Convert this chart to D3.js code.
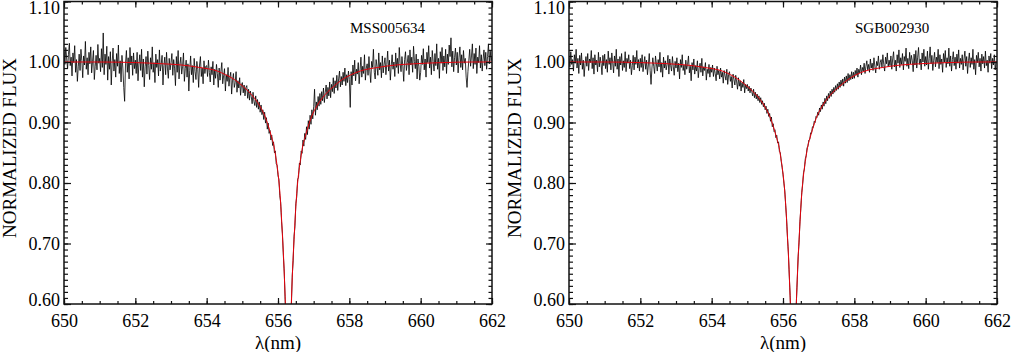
<!DOCTYPE html>
<html>
<head>
<meta charset="utf-8">
<script src="https://cdn.jsdelivr.net/npm/d3@7"></script>
<style>
  body { margin: 0; background: #fff; }
  svg { display: block; }
  text { font-family: "Liberation Serif", "DejaVu Serif", serif; }
</style>
</head>
<body>
<div id="chart"></div>
<script>
// Spectra sampled every 0.025 nm from 650.000 to 662.000 nm (481 points), one row per nm
const waveStart = 650;
const waveStep = 0.025;

const mssFlux = [
  1.018, 0.996, 1.024, 1.005, 0.989, 1.012, 1.031, 0.994, 1.008, 0.977, 1.015, 0.999, 1.027, 0.983, 1.004, 0.968, 0.992, 1.013, 0.986, 1.021,
  1.002, 0.974, 1.010, 0.995, 1.034, 0.988, 1.007, 0.979, 1.016, 0.997, 1.025, 0.982, 1.001, 1.019, 0.971, 0.993, 1.011, 0.987, 1.029, 0.998,
  1.006, 0.984, 1.022, 0.991, 1.048, 0.979, 1.013, 0.996, 1.026, 0.970, 1.009, 0.988, 1.017, 0.962, 0.999, 1.023, 0.985, 1.004, 0.975, 1.014,
  0.993, 1.028, 0.981, 1.002, 0.967, 1.011, 0.990, 0.958, 0.935, 0.998, 1.019, 0.983, 1.007, 0.972, 1.024, 0.995, 1.010, 0.978, 1.015, 0.989,
  1.003, 0.981, 1.016, 0.969, 0.997, 1.012, 0.986, 1.021, 0.975, 1.005, 0.959, 0.992, 1.009, 0.980, 1.018, 0.994, 0.971, 1.007, 0.988, 1.025,
  0.983, 0.999, 0.966, 1.013, 0.991, 1.004, 0.977, 1.020, 0.985, 0.996, 1.011, 0.962, 0.994, 1.008, 0.979, 1.016, 0.990, 0.973, 1.006, 0.987,
  0.999, 1.014, 0.978, 1.004, 0.990, 0.961, 1.009, 0.983, 1.019, 0.972, 0.996, 1.008, 0.980, 0.993, 1.015, 0.968, 0.989, 1.003, 0.975, 0.997,
  0.952, 0.986, 1.010, 0.979, 0.994, 0.966, 1.006, 0.984, 0.971, 1.001, 0.988, 0.958, 0.995, 1.009, 0.976, 0.990, 0.964, 1.002, 0.981, 0.993,
  0.994, 0.976, 1.003, 0.983, 0.967, 0.992, 0.979, 1.001, 0.962, 0.988, 0.973, 0.996, 0.981, 0.958, 0.990, 0.970, 0.985, 0.999, 0.964, 0.977,
  0.989, 0.952, 0.979, 0.968, 0.991, 0.960, 0.975, 0.983, 0.947, 0.970, 0.981, 0.958, 0.966, 0.984, 0.950, 0.969, 0.957, 0.974, 0.945, 0.962,
  0.966, 0.949, 0.962, 0.944, 0.958, 0.961, 0.940, 0.955, 0.937, 0.952, 0.943, 0.931, 0.950, 0.935, 0.928, 0.944, 0.925, 0.938, 0.922, 0.934,
  0.917, 0.929, 0.913, 0.921, 0.905, 0.917, 0.899, 0.908, 0.889, 0.899, 0.882, 0.887, 0.871, 0.879, 0.862, 0.868, 0.850, 0.853, 0.832, 0.829,
  0.812, 0.806, 0.779, 0.768, 0.736, 0.716, 0.680, 0.653, 0.607, 0.571, 0.528, 0.477, 0.470, 0.506, 0.565, 0.597, 0.648, 0.671, 0.712, 0.728,
  0.766, 0.777, 0.806, 0.809, 0.833, 0.830, 0.853, 0.849, 0.871, 0.861, 0.882, 0.872, 0.893, 0.880, 0.903, 0.889, 0.912, 0.897, 0.921, 0.906,
  0.926, 0.955, 0.912, 0.934, 0.921, 0.943, 0.927, 0.948, 0.930, 0.951, 0.936, 0.957, 0.933, 0.950, 0.962, 0.939, 0.958, 0.944, 0.967, 0.941,
  0.963, 0.951, 0.974, 0.948, 0.969, 0.957, 0.978, 0.953, 0.972, 0.985, 0.959, 0.976, 0.962, 0.983, 0.968, 0.990, 0.961, 0.979, 0.966, 0.985,
  0.971, 0.925, 0.984, 0.962, 0.995, 0.977, 1.003, 0.969, 0.988, 0.980, 0.999, 0.964, 0.986, 1.008, 0.975, 0.993, 0.981, 1.012, 0.970, 0.990,
  0.997, 0.978, 1.009, 0.985, 0.966, 1.001, 0.991, 1.021, 0.983, 0.972, 1.004, 0.993, 0.978, 1.015, 0.987, 0.999, 0.974, 1.010, 0.982, 0.996,
  1.007, 0.979, 0.996, 1.018, 0.985, 1.003, 0.970, 0.994, 1.012, 0.988, 1.000, 0.976, 1.015, 0.991, 1.006, 0.981, 1.024, 0.997, 0.984, 1.009,
  0.993, 0.968, 1.004, 1.017, 0.986, 0.999, 1.011, 0.979, 1.020, 0.995, 1.008, 0.983, 1.026, 1.001, 0.989, 1.013, 0.972, 1.005, 0.993, 0.970,
  0.983, 1.011, 0.996, 1.022, 0.987, 1.005, 0.975, 1.016, 0.999, 1.027, 0.990, 1.008, 0.979, 1.019, 1.001, 0.985, 1.014, 0.994, 1.030, 0.988,
  1.006, 0.973, 1.017, 0.998, 1.024, 0.986, 1.010, 0.992, 1.021, 0.981, 1.013, 0.996, 1.028, 1.009, 1.040, 0.992, 1.018, 0.984, 1.007, 1.023,
  0.995, 1.016, 0.982, 1.008, 1.025, 0.991, 1.012, 0.987, 1.019, 0.998, 1.006, 0.975, 0.958, 0.984, 1.003, 1.021, 0.993, 1.010, 1.030, 0.989,
  1.014, 0.996, 1.023, 0.981, 1.008, 0.999, 1.027, 0.990, 1.012, 0.985, 1.005, 1.020, 0.994, 1.016, 0.988, 1.009, 1.030, 0.997, 1.018, 1.002,
  1.010
];

const sgbFlux = [
  1.008, 0.992, 1.017, 0.996, 1.004, 0.985, 1.012, 0.998, 1.021, 0.990, 1.006, 0.981, 1.011, 0.995, 1.015, 0.988, 1.003, 0.976, 0.997, 1.009,
  0.993, 1.014, 0.986, 1.005, 0.999, 1.019, 0.989, 1.007, 0.980, 1.012, 0.995, 1.003, 0.984, 1.016, 0.992, 1.008, 0.997, 0.979, 1.011, 0.994,
  1.013, 0.989, 1.004, 0.983, 1.018, 0.996, 1.007, 0.987, 1.015, 0.999, 0.982, 1.010, 0.993, 1.021, 0.988, 1.005, 0.976, 1.009, 0.995, 1.014,
  0.986, 1.002, 0.991, 1.017, 0.984, 1.006, 0.998, 1.012, 0.989, 1.003, 0.979, 0.994, 1.011, 0.987, 1.008, 0.996, 1.019, 0.990, 1.004, 0.985,
  1.006, 0.991, 1.012, 0.984, 0.998, 1.009, 0.988, 1.003, 0.979, 0.995, 1.014, 0.986, 0.963, 0.990, 1.007, 0.993, 0.981, 1.010, 0.997, 0.985,
  1.004, 0.992, 1.016, 0.983, 0.999, 0.975, 1.008, 0.990, 1.002, 0.987, 0.996, 1.011, 0.980, 1.005, 0.994, 0.985, 1.009, 0.992, 0.978, 1.001,
  0.990, 1.007, 0.984, 0.998, 0.972, 1.004, 0.991, 1.012, 0.986, 0.995, 0.979, 1.003, 0.988, 0.996, 1.010, 0.982, 0.993, 0.969, 0.999, 0.987,
  1.005, 0.980, 0.994, 0.985, 1.002, 0.974, 0.990, 0.998, 0.983, 1.006, 0.977, 0.992, 0.986, 0.999, 0.970, 0.988, 0.981, 0.996, 0.975, 0.991,
  0.983, 0.995, 0.976, 0.990, 0.981, 0.969, 0.993, 0.979, 0.986, 0.972, 0.990, 0.975, 0.983, 0.965, 0.986, 0.977, 0.970, 0.988, 0.963, 0.979,
  0.984, 0.968, 0.976, 0.957, 0.980, 0.971, 0.962, 0.978, 0.967, 0.955, 0.974, 0.960, 0.969, 0.952, 0.966, 0.958, 0.971, 0.949, 0.963, 0.956,
  0.963, 0.952, 0.960, 0.949, 0.957, 0.951, 0.944, 0.955, 0.941, 0.950, 0.939, 0.947, 0.936, 0.944, 0.933, 0.941, 0.930, 0.936, 0.926, 0.932,
  0.921, 0.927, 0.915, 0.922, 0.910, 0.915, 0.902, 0.909, 0.893, 0.898, 0.885, 0.888, 0.875, 0.879, 0.866, 0.868, 0.852, 0.850, 0.836, 0.826,
  0.814, 0.800, 0.787, 0.763, 0.741, 0.710, 0.686, 0.648, 0.614, 0.572, 0.532, 0.478, 0.468, 0.512, 0.557, 0.604, 0.640, 0.678, 0.701, 0.736,
  0.758, 0.784, 0.797, 0.817, 0.823, 0.840, 0.845, 0.858, 0.861, 0.871, 0.872, 0.883, 0.882, 0.893, 0.892, 0.902, 0.900, 0.910, 0.908, 0.917,
  0.912, 0.924, 0.918, 0.929, 0.922, 0.934, 0.927, 0.940, 0.931, 0.944, 0.936, 0.948, 0.940, 0.952, 0.943, 0.955, 0.947, 0.958, 0.950, 0.961,
  0.953, 0.964, 0.955, 0.967, 0.958, 0.970, 0.961, 0.972, 0.960, 0.975, 0.965, 0.977, 0.966, 0.981, 0.969, 0.979, 0.971, 0.984, 0.972, 0.983,
  0.973, 0.986, 0.978, 0.990, 0.975, 0.988, 0.982, 0.995, 0.979, 0.991, 0.985, 0.998, 0.981, 0.993, 1.002, 0.987, 0.996, 0.983, 1.005, 0.990,
  0.998, 0.986, 1.007, 0.993, 0.982, 1.001, 0.994, 1.010, 0.988, 0.999, 1.004, 0.991, 1.012, 0.996, 0.985, 1.008, 0.997, 1.015, 0.992, 1.003,
  0.994, 1.010, 0.988, 1.005, 1.017, 0.992, 1.003, 0.985, 1.012, 0.998, 1.020, 0.991, 1.007, 0.996, 1.014, 0.987, 1.009, 1.001, 1.023, 0.993,
  1.006, 0.989, 1.016, 0.997, 1.011, 1.002, 0.984, 1.013, 0.995, 1.019, 0.990, 1.008, 1.024, 0.996, 1.005, 0.987, 1.015, 1.000, 1.021, 0.993,
  1.009, 0.995, 1.018, 0.988, 1.006, 1.025, 0.997, 1.011, 0.986, 1.003, 1.016, 0.992, 1.008, 0.999, 1.021, 0.989, 1.012, 0.996, 1.005, 0.983,
  1.014, 1.000, 1.019, 0.991, 1.007, 0.997, 1.023, 0.993, 1.010, 0.985, 1.004, 1.017, 0.994, 1.008, 0.988, 1.013, 0.998, 1.020, 0.990, 1.006,
  0.996, 1.012, 0.987, 1.005, 1.018, 0.993, 1.009, 0.981, 1.002, 1.015, 0.991, 1.007, 0.996, 1.021, 0.988, 1.004, 0.979, 1.011, 0.999, 1.016,
  0.992, 1.006, 0.985, 1.013, 0.997, 1.009, 0.990, 1.018, 0.994, 1.003, 0.983, 1.010, 0.998, 1.014, 0.989, 1.006, 0.995, 1.012, 0.987, 1.001,
  0.998
];

// Model fits (red)
const modelWave = [
  650.00, 651.00, 652.00, 652.80, 653.30, 653.80, 654.30, 654.53, 654.78, 655.03,
  655.18, 655.33, 655.43, 655.53, 655.63, 655.73, 655.83, 655.88, 655.93, 655.98,
  656.03, 656.08, 656.12, 656.16, 656.20, 656.24, 656.29, 656.34, 656.38, 656.42,
  656.46, 656.50, 656.55, 656.60, 656.65, 656.70, 656.75, 656.85, 656.95, 657.05,
  657.15, 657.25, 657.40, 657.55, 657.80, 658.05, 658.30, 658.80, 659.30, 659.80,
  660.60, 661.50, 662.00
];
const mssModelFlux = [
  1.000, 1.000, 0.999, 0.997, 0.995, 0.991, 0.985, 0.979, 0.971, 0.959,
  0.951, 0.941, 0.933, 0.923, 0.911, 0.894, 0.874, 0.863, 0.846, 0.826,
  0.800, 0.761, 0.718, 0.672, 0.612, 0.540, 0.450, 0.540, 0.612, 0.672,
  0.718, 0.761, 0.800, 0.826, 0.846, 0.863, 0.874, 0.894, 0.911, 0.923,
  0.933, 0.941, 0.951, 0.959, 0.971, 0.979, 0.985, 0.991, 0.995, 0.997,
  0.999, 1.000, 1.000
];
const sgbModelFlux = [
  1.000, 1.000, 0.999, 0.997, 0.995, 0.991, 0.985, 0.979, 0.970, 0.958,
  0.950, 0.940, 0.932, 0.922, 0.910, 0.893, 0.873, 0.862, 0.845, 0.825,
  0.799, 0.760, 0.717, 0.671, 0.611, 0.538, 0.448, 0.538, 0.611, 0.671,
  0.717, 0.760, 0.799, 0.825, 0.845, 0.862, 0.873, 0.893, 0.910, 0.922,
  0.932, 0.940, 0.950, 0.958, 0.970, 0.979, 0.985, 0.991, 0.995, 0.997,
  0.999, 1.000, 1.000
];

const xTickValues = [650, 652, 654, 656, 658, 660, 662];
const yTickValues = [0.60, 0.70, 0.80, 0.90, 1.00, 1.10];
const starNames = ["MSS005634", "SGB002930"];

const width = 1012, height = 352;
const panelLeft = [64, 569];
const panelWidth = 428;
const plotTop = 1.5, plotBottom = 304;
const serif = "Liberation Serif, DejaVu Serif, serif";

const svg = d3.select("#chart")
  .append("svg")
  .attr("width", width)
  .attr("height", height)
  .style("font-family", serif);

const panels = [
  { name: starNames[0], flux: mssFlux, model: mssModelFlux, x0: panelLeft[0] },
  { name: starNames[1], flux: sgbFlux, model: sgbModelFlux, x0: panelLeft[1] }
];

panels.forEach((p, pi) => {
  const x = d3.scaleLinear().domain([650, 662]).range([p.x0, p.x0 + panelWidth]);
  const y = d3.scaleLinear().domain([0.6, 1.1]).range([plotBottom, plotTop]);
  const g = svg.append("g");

  // clip to the plot box
  const clipId = "clip" + pi;
  svg.append("clipPath").attr("id", clipId)
    .append("rect")
    .attr("x", x(650)).attr("y", y(1.1))
    .attr("width", x(662) - x(650)).attr("height", y(0.6) - y(1.1));

  const spec = p.flux.map((f, i) => ({ w: waveStart + i * waveStep, f }));
  const fit = modelWave.map((w, i) => ({ w, f: p.model[i] }));

  g.append("path")
    .datum(spec)
    .attr("clip-path", `url(#${clipId})`)
    .attr("fill", "none")
    .attr("stroke", "#000")
    .attr("stroke-width", 0.8)
    .attr("d", d3.line().x(d => x(d.w)).y(d => y(d.f)));

  g.append("path")
    .datum(fit)
    .attr("clip-path", `url(#${clipId})`)
    .attr("fill", "none")
    .attr("stroke", "#e8000b")
    .attr("stroke-width", 1)
    .attr("d", d3.line().curve(d3.curveMonotoneX).x(d => x(d.w)).y(d => y(d.f)));

  // minor ticks on all four sides
  const minorX = x.ticks(24), minorY = y.ticks(50);
  const axisStyle = sel => sel.attr("color", "#111").call(s => s.select(".domain").remove())
    .selectAll("line").attr("stroke-width", 1.2);

  g.append("g").attr("transform", `translate(0,${plotBottom})`)
    .call(d3.axisBottom(x).tickValues(minorX).tickSize(-3).tickFormat(""))
    .call(axisStyle);
  g.append("g").attr("transform", `translate(0,${plotTop})`)
    .call(d3.axisTop(x).tickValues(minorX).tickSize(-3).tickFormat(""))
    .call(axisStyle);
  g.append("g").attr("transform", `translate(${x(650)},0)`)
    .call(d3.axisLeft(y).tickValues(minorY).tickSize(-4).tickFormat(""))
    .call(axisStyle);
  g.append("g").attr("transform", `translate(${x(662)},0)`)
    .call(d3.axisRight(y).tickValues(minorY).tickSize(-3.5).tickFormat(""))
    .call(axisStyle);

  // major ticks with labels
  const xAxis = g.append("g").attr("transform", `translate(0,${plotBottom})`)
    .call(d3.axisBottom(x).tickValues(xTickValues).tickSize(-6).tickPadding(10).tickFormat(d3.format("d")))
    .call(axisStyle);
  g.append("g").attr("transform", `translate(0,${plotTop})`)
    .call(d3.axisTop(x).tickValues(xTickValues).tickSize(-6).tickFormat(""))
    .call(axisStyle);
  const yAxis = g.append("g").attr("transform", `translate(${x(650)},0)`)
    .call(d3.axisLeft(y).tickValues(yTickValues).tickSize(-7).tickPadding(4).tickFormat(d3.format(".2f")))
    .call(axisStyle);
  g.append("g").attr("transform", `translate(${x(662)},0)`)
    .call(d3.axisRight(y).tickValues(yTickValues).tickSize(-6).tickFormat(""))
    .call(axisStyle);

  [xAxis, yAxis].forEach(a => {
    a.attr("font-family", serif);
    a.selectAll("text")
      .attr("font-family", serif)
      .attr("font-size", "18px")
      .attr("fill", "#000");
  });
  // end labels are nudged inside the box
  yAxis.selectAll("text")
    .attr("y", d => d === 1.1 ? 6.5 : d === 0.6 ? -4 : 0);

  // frame
  g.append("rect")
    .attr("x", x(650)).attr("y", y(1.1))
    .attr("width", x(662) - x(650)).attr("height", y(0.6) - y(1.1))
    .attr("fill", "none")
    .attr("stroke", "#111")
    .attr("stroke-width", 1.5);

  // star name
  g.append("text")
    .attr("x", x(650) + 286)
    .attr("y", 32.5)
    .attr("font-size", "15px")
    .attr("fill", "#000")
    .text(p.name);

  // axis titles
  g.append("text")
    .attr("x", (x(650) + x(662)) / 2)
    .attr("y", 349)
    .attr("text-anchor", "middle")
    .attr("font-size", "19px")
    .attr("fill", "#000")
    .text("λ(nm)");

  g.append("text")
    .attr("transform", `translate(${x(650) - 48.5},148) rotate(-90)`)
    .attr("text-anchor", "middle")
    .attr("font-size", "19px")
    .attr("fill", "#000")
    .text("NORMALIZED FLUX");
});
</script>
</body>
</html>
